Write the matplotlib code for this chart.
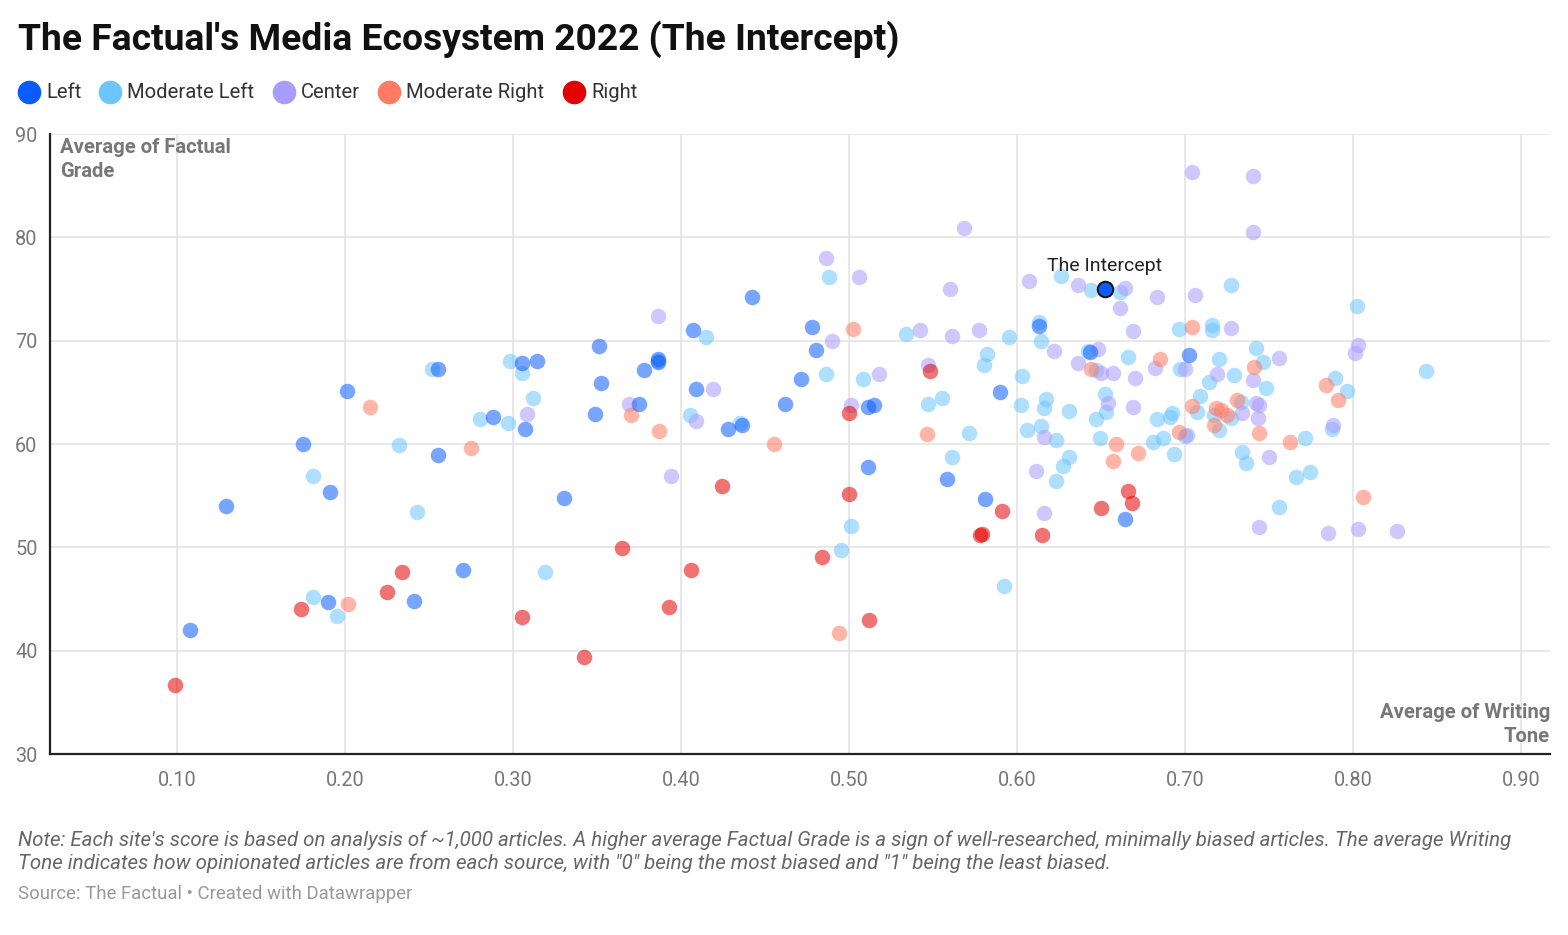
import matplotlib
matplotlib.use("Agg")
import matplotlib.pyplot as plt
from matplotlib.lines import Line2D

plt.rcParams['font.family'] = ['Roboto', 'DejaVu Sans']

categories = ["Left", "Moderate Left", "Center", "Moderate Right", "Right"]
colors = ["#0a5cff", "#6cc5ff", "#a99cff", "#ff7b63", "#e30000"]

left_x = [0.108, 0.129, 0.175, 0.191, 0.190, 0.201, 0.241, 0.255, 0.255, 0.270, 0.288, 0.305, 0.307, 0.314,
          0.330, 0.349, 0.351, 0.352, 0.375, 0.378, 0.386, 0.386, 0.407, 0.409, 0.428, 0.436, 0.442, 0.462,
          0.471, 0.478, 0.480, 0.511, 0.515, 0.511, 0.558, 0.581, 0.590, 0.613, 0.643, 0.664, 0.702]
left_y = [42.0, 54.0, 60.0, 55.4, 44.7, 65.1, 44.8, 67.3, 58.9, 47.8, 62.6, 67.8, 61.5, 68.0,
          54.8, 62.9, 69.5, 65.9, 63.9, 67.2, 68.2, 67.9, 71.0, 65.3, 61.5, 61.8, 74.2, 63.9,
          66.3, 71.3, 69.1, 63.6, 63.8, 57.8, 56.6, 54.7, 65.0, 71.4, 68.9, 52.7, 68.6]

modleft_x = [0.181, 0.181, 0.195, 0.232, 0.243, 0.252, 0.280, 0.297, 0.298, 0.305, 0.312, 0.319, 0.386, 0.405,
             0.415, 0.435, 0.486, 0.488, 0.495, 0.501, 0.508, 0.534, 0.547, 0.555, 0.561, 0.571, 0.580, 0.582,
             0.592, 0.595, 0.602, 0.603, 0.606, 0.613, 0.614, 0.614, 0.616, 0.617, 0.623, 0.623, 0.626, 0.627,
             0.631, 0.631, 0.642, 0.644, 0.647, 0.647, 0.649, 0.652, 0.653, 0.661, 0.666, 0.681, 0.683, 0.687,
             0.691, 0.692, 0.693, 0.696, 0.697, 0.700, 0.707, 0.709, 0.714, 0.716, 0.716, 0.717, 0.720, 0.720,
             0.727, 0.727, 0.729, 0.733, 0.734, 0.736, 0.742, 0.746, 0.748, 0.756, 0.766, 0.771, 0.774, 0.787,
             0.789, 0.796, 0.802, 0.843]
modleft_y = [56.9, 45.2, 43.4, 59.9, 53.4, 67.3, 62.4, 62.0, 68.0, 66.9, 64.5, 47.6, 68.0, 62.8,
             70.4, 62.0, 66.8, 76.2, 49.7, 52.1, 66.3, 70.6, 63.9, 64.5, 58.7, 61.1, 67.6, 68.7,
             46.3, 70.4, 63.8, 66.6, 61.4, 71.8, 70.0, 61.7, 63.5, 64.4, 60.4, 56.4, 76.3, 57.9,
             63.2, 58.7, 69.0, 74.9, 67.2, 62.4, 60.6, 64.8, 63.1, 74.7, 68.4, 60.2, 62.4, 60.6,
             62.6, 63.0, 59.0, 71.1, 67.3, 60.8, 63.1, 64.6, 66.0, 71.5, 71.0, 62.8, 68.2, 61.4,
             75.4, 62.5, 66.7, 64.1, 59.2, 58.2, 69.3, 67.9, 65.4, 53.9, 56.8, 60.6, 57.3, 61.5,
             66.4, 65.1, 73.4, 67.1]

center_x = [0.308, 0.369, 0.386, 0.394, 0.409, 0.419, 0.486, 0.490, 0.501, 0.506, 0.518, 0.542, 0.547, 0.560,
            0.561, 0.568, 0.577, 0.607, 0.611, 0.616, 0.616, 0.622, 0.636, 0.636, 0.648, 0.650, 0.654, 0.657,
            0.661, 0.664, 0.669, 0.669, 0.670, 0.682, 0.683, 0.700, 0.701, 0.704, 0.706, 0.719, 0.727, 0.734,
            0.740, 0.740, 0.740, 0.742, 0.744, 0.743, 0.744, 0.750, 0.756, 0.785, 0.788, 0.801, 0.803, 0.803,
            0.826]
center_y = [62.9, 63.9, 72.4, 56.9, 62.2, 65.3, 78.0, 70.0, 63.8, 76.2, 66.8, 71.0, 67.6, 75.0,
            70.5, 80.9, 71.0, 75.8, 57.4, 60.7, 53.3, 69.0, 75.4, 67.8, 69.2, 66.9, 64.0, 66.9,
            73.2, 75.1, 70.9, 63.6, 66.4, 67.4, 74.2, 67.3, 60.9, 86.3, 74.4, 66.8, 71.2, 63.0,
            85.9, 80.5, 66.2, 64.0, 63.8, 62.5, 52.0, 58.7, 68.3, 51.4, 61.8, 68.8, 69.6, 51.8,
            51.6]

modright_x = [0.202, 0.215, 0.275, 0.370, 0.387, 0.455, 0.494, 0.502, 0.546, 0.644, 0.657, 0.659, 0.672, 0.685,
              0.696, 0.704, 0.704, 0.717, 0.718, 0.721, 0.725, 0.731, 0.741, 0.744, 0.762, 0.784, 0.791, 0.806]
modright_y = [44.5, 63.6, 59.6, 62.8, 61.3, 60.0, 41.7, 71.1, 61.0, 67.3, 58.4, 60.0, 59.1, 68.2,
              61.2, 71.3, 63.7, 61.8, 63.5, 63.3, 62.8, 64.3, 67.5, 61.1, 60.2, 65.7, 64.3, 54.9]

right_x = [0.099, 0.174, 0.225, 0.234, 0.305, 0.342, 0.365, 0.393, 0.406, 0.424, 0.484, 0.500, 0.500, 0.512,
           0.548, 0.578, 0.579, 0.591, 0.615, 0.650, 0.666, 0.668]
right_y = [36.7, 44.0, 45.7, 47.6, 43.3, 39.4, 49.9, 44.2, 47.8, 55.9, 49.1, 63.0, 55.2, 43.0,
           67.1, 51.2, 51.3, 53.5, 51.2, 53.8, 55.5, 54.3]

highlight_name = "The Intercept"
highlight_x = [0.652]
highlight_y = [75.0]

x_ticks = [0.10, 0.20, 0.30, 0.40, 0.50, 0.60, 0.70, 0.80, 0.90]
y_ticks = [30, 40, 50, 60, 70, 80, 90]

W, H = 1568, 935
fig = plt.figure(figsize=(W / 100, H / 100), dpi=100)
ax = fig.add_axes([50 / W, 1 - 754 / H, 1500 / W, 620 / H])

series = [(left_x, left_y), (modleft_x, modleft_y), (center_x, center_y),
          (modright_x, modright_y), (right_x, right_y)]
order = [1, 2, 3, 0, 4]
for i in order:
    xs, ys = series[i]
    ax.scatter(xs, ys, s=125, color=colors[i], alpha=0.55, linewidths=0, zorder=3)

ax.scatter(highlight_x, highlight_y, s=125, color=colors[0], edgecolors="#111111",
           linewidths=1.4, zorder=5)
ax.annotate(highlight_name, (highlight_x[0], highlight_y[0]), xytext=(0, 10),
            textcoords="offset points", ha="center", va="bottom", fontsize=14,
            color="#222222", zorder=6)

ax.set_xlim(0.0244, 0.917)
ax.set_ylim(30, 90)
ax.set_xticks(x_ticks)
ax.set_xticklabels([f"{v:.2f}" for v in x_ticks])
ax.set_yticks(y_ticks)
ax.set_yticklabels([str(v) for v in y_ticks])
ax.tick_params(axis="both", length=0, labelsize=14.3, labelcolor="#777777")
ax.tick_params(axis="x", pad=12)
ax.tick_params(axis="y", pad=9)
ax.grid(True, color="#e6e6e6", linewidth=1.3, zorder=0)
ax.set_axisbelow(True)
for s in ["top", "right"]:
    ax.spines[s].set_visible(False)
for s in ["left", "bottom"]:
    ax.spines[s].set_color("#222222")
    ax.spines[s].set_linewidth(1.6)

ax.text(0.0065, 0.994, "Average of Factual\nGrade", transform=ax.transAxes, ha="left", va="top",
        fontsize=14.6, fontweight="bold", color="#777777", linespacing=1.32, zorder=4)
ax.text(1.0, 0.013, "Average of Writing\nTone", transform=ax.transAxes, ha="right", va="bottom",
        fontsize=14.6, fontweight="bold", color="#777777", linespacing=1.32, zorder=4,
        multialignment="right")

fig.text(18 / W, 1 - 39 / H, "The Factual's Media Ecosystem 2022 (The Intercept)", ha="left",
         va="center", fontsize=26.8, fontweight="bold", color="#111111")

leg_pos = [18, 99, 273, 378, 563]
for i, cat in enumerate(categories):
    x0 = leg_pos[i]
    fig.add_artist(Line2D([(x0 + 11) / W], [1 - 92 / H], marker="o", markersize=17,
                          color=colors[i], markeredgewidth=0, linestyle="none",
                          transform=fig.transFigure))
    fig.text((x0 + 28) / W, 1 - 92 / H, cat, ha="left", va="center", fontsize=14.6, color="#333333")

fig.text(18 / W, 1 - 840 / H,
         "Note: Each site's score is based on analysis of ~1,000 articles. A higher average Factual Grade is a sign of "
         "well-researched, minimally biased articles. The average Writing",
         ha="left", va="center", fontsize=14.8, style="italic", color="#666666")
fig.text(18 / W, 1 - 863 / H,
         "Tone indicates how opinionated articles are from each source, with \"0\" being the most biased and "
         "\"1\" being the least biased.",
         ha="left", va="center", fontsize=14.8, style="italic", color="#666666")
fig.text(18 / W, 1 - 894 / H, "Source: The Factual \u2022 Created with Datawrapper", ha="left", va="center",
         fontsize=13.4, color="#999999")

fig.savefig("out.png", dpi=100)
